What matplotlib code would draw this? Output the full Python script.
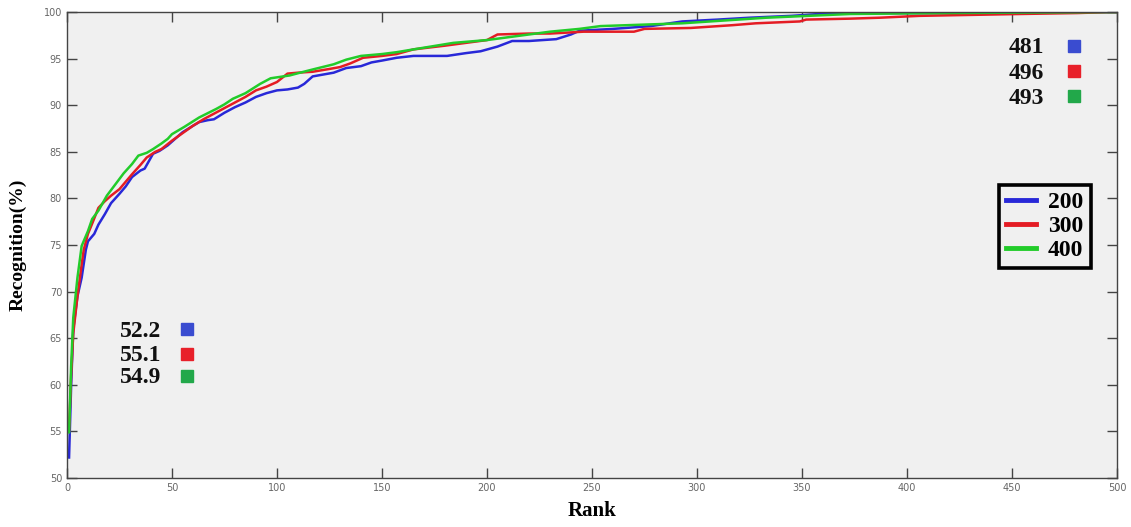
import matplotlib
matplotlib.use("Agg")
from matplotlib import pyplot as plt

# recognition rate vs rank for three settings
rank_200 = [1, 2, 3, 5, 7, 9, 10, 13, 15, 18, 21, 25, 28, 31, 35, 37, 41, 44, 48, 52, 55, 60, 63, 67, 70,
            75, 80, 85, 90, 95, 100, 105, 110, 113, 117, 122, 127, 133, 140, 145, 150, 157, 165, 181, 190,
            197, 205, 212, 220, 233, 240, 244, 260, 278, 293, 310, 325, 345, 365, 420, 481, 500]
rec_200 = [52.2, 60.0, 66.0, 69.5, 71.5, 74.5, 75.4, 76.2, 77.2, 78.3, 79.5, 80.5, 81.3, 82.3, 83.0, 83.2,
           84.8, 85.1, 85.7, 86.5, 87.1, 87.8, 88.2, 88.4, 88.5, 89.2, 89.8, 90.3, 90.9, 91.3, 91.6, 91.7,
           91.9, 92.3, 93.1, 93.3, 93.5, 94.0, 94.2, 94.6, 94.8, 95.1, 95.3, 95.3, 95.6, 95.8, 96.3, 96.9,
           96.9, 97.1, 97.6, 98.0, 98.2, 98.5, 99.0, 99.2, 99.4, 99.6, 99.9, 99.9, 100.0, 100.0]

rank_300 = [1, 2, 3, 5, 7, 8, 10, 12, 15, 18, 21, 25, 28, 31, 35, 38, 42, 45, 50, 55, 60, 65, 70, 75, 80,
            85, 90, 95, 100, 105, 110, 117, 125, 130, 135, 141, 150, 157, 165, 180, 200, 205, 220, 230,
            246, 270, 275, 297, 317, 328, 349, 352, 373, 387, 406, 454, 481, 496, 500]
rec_300 = [55.1, 61.0, 65.5, 69.5, 72.9, 74.5, 76.2, 77.3, 79.0, 79.7, 80.3, 81.0, 81.8, 82.6, 83.6, 84.4,
           85.0, 85.3, 86.2, 87.0, 87.8, 88.5, 89.1, 89.7, 90.3, 90.9, 91.6, 92.0, 92.5, 93.4, 93.5, 93.6,
           93.9, 94.1, 94.5, 95.1, 95.3, 95.5, 96.0, 96.4, 97.0, 97.6, 97.7, 97.7, 97.9, 97.9, 98.2, 98.3,
           98.6, 98.8, 99.0, 99.2, 99.3, 99.4, 99.6, 99.8, 99.9, 100.0, 100.0]

rank_400 = [1, 2, 3, 5, 7, 10, 12, 15, 19, 23, 27, 31, 34, 38, 41, 45, 48, 50, 56, 63, 71, 75, 79, 85, 92,
            97, 100, 106, 111, 118, 127, 133, 140, 150, 157, 165, 184, 200, 220, 230, 244, 254, 293, 333,
            373, 420, 493, 500]
rec_400 = [54.9, 62.0, 67.2, 71.5, 74.9, 76.5, 77.8, 78.7, 80.3, 81.5, 82.7, 83.7, 84.6, 84.9, 85.3, 85.9,
           86.4, 86.9, 87.7, 88.7, 89.6, 90.1, 90.7, 91.3, 92.3, 92.9, 93.0, 93.2, 93.5, 93.9, 94.4, 94.9,
           95.3, 95.5, 95.7, 96.0, 96.7, 97.0, 97.6, 97.9, 98.2, 98.5, 98.8, 99.4, 99.8, 99.9, 100.0, 100.0]

series_names = ["200", "300", "400"]
start_labels = ["52.2", "55.1", "54.9"]
full_labels = ["481", "496", "493"]
colors = ["#2828d8", "#e41c24", "#22cc2a"]
key_colors = ["#3a4cd0", "#e8202a", "#22a84a"]

serif = ["Liberation Serif", "DejaVu Serif"]

fig = plt.figure(figsize=(11.31, 5.27), dpi=100)
ax = fig.add_axes([0.0592, 0.093, 0.9284, 0.884])
ax.set_facecolor("#f0f0f0")

lines = []
for xs, ys, c, name in zip([rank_200, rank_300, rank_400], [rec_200, rec_300, rec_400], colors, series_names):
    ln, = ax.plot(xs, ys, color=c, lw=1.8, label=name)
    lines.append(ln)

ax.set_xlim(0, 500)
ax.set_ylim(50, 100)
ax.set_xticks(range(0, 501, 50))
ax.set_yticks(range(50, 101, 5))
ax.tick_params(direction="in", length=7, width=1, color="#444444", top=True, right=True,
               labelsize=7, labelcolor="#666666")
for s in ax.spines.values():
    s.set_color("#444444")
    s.set_linewidth(1.0)

ax.set_xlabel("Rank", family=serif, fontweight="bold", fontsize=15, labelpad=6)
ax.set_ylabel("Recognition(%)", family=serif, fontweight="bold", fontsize=14, labelpad=12)

# starting values (rank 1) on the left, rank of full recognition on the right
left_y = [0.315, 0.262, 0.215]
right_y = [0.923, 0.869, 0.815]
for i in range(3):
    ax.text(0.05, left_y[i], start_labels[i], transform=ax.transAxes, family=serif,
            fontweight="bold", fontsize=17, va="center", ha="left", color="#111111")
    ax.plot(0.114, left_y[i] + 0.004, "s", ms=8, color=key_colors[i], transform=ax.transAxes)
    ax.text(0.897, right_y[i], full_labels[i], transform=ax.transAxes, family=serif,
            fontweight="bold", fontsize=17, va="center", ha="left", color="#111111")
    ax.plot(0.959, right_y[i] + 0.004, "s", ms=8, color=key_colors[i], transform=ax.transAxes)

leg = ax.legend(handles=lines, loc="center", bbox_to_anchor=(0.931, 0.54),
                prop={"family": serif, "weight": "bold", "size": 17},
                frameon=True, fancybox=False, handlelength=1.3, handletextpad=0.5,
                labelspacing=0.1, borderpad=0.3, borderaxespad=0)
leg.get_frame().set_edgecolor("black")
leg.get_frame().set_linewidth(2.6)
leg.get_frame().set_facecolor("#f0f0f0")
leg.get_frame().set_alpha(1)
for ln in leg.get_lines():
    ln.set_linewidth(3.5)

fig.savefig("out.png", dpi=100)
